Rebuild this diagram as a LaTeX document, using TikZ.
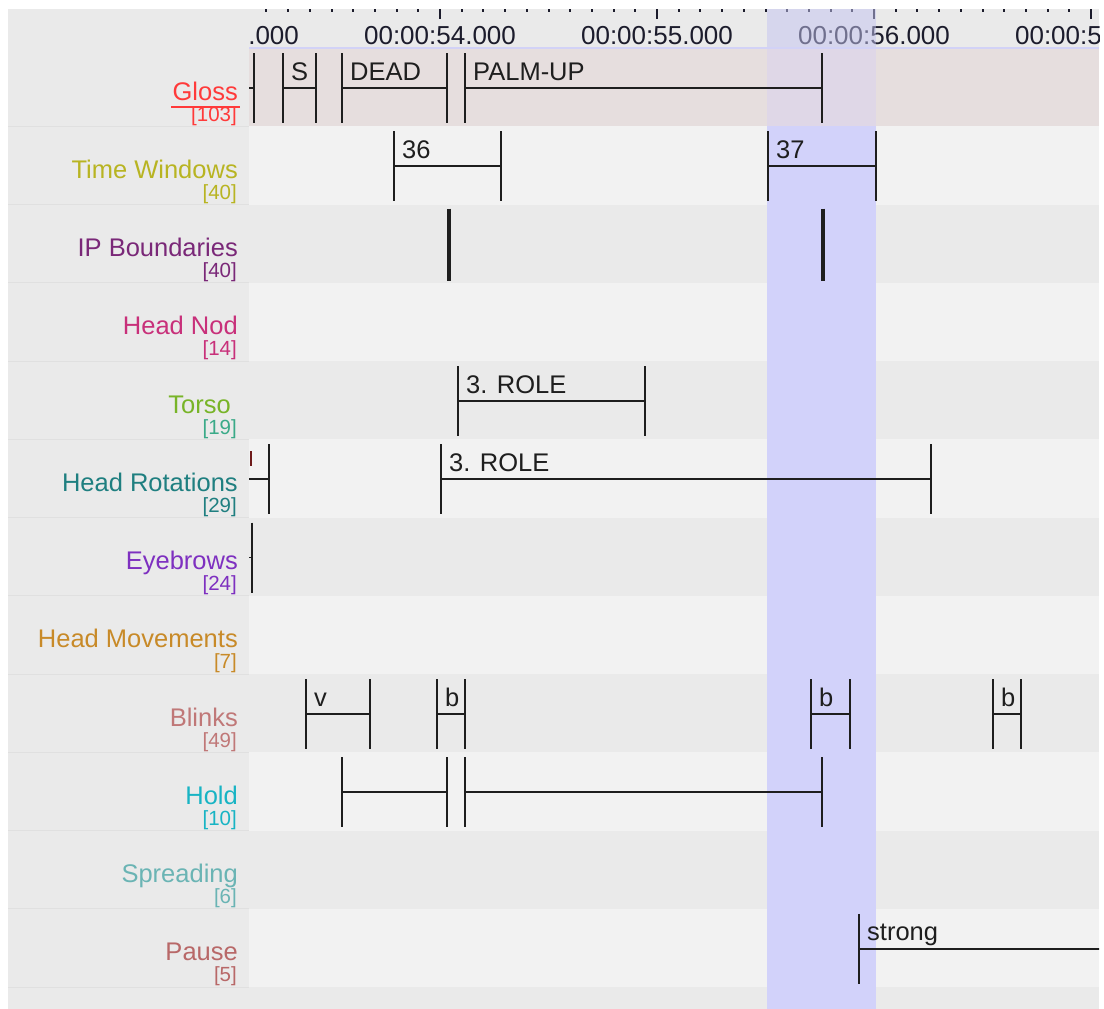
\documentclass[tikz,border=0pt]{standalone}
\usepackage{fontspec}
\setmainfont{Liberation Sans}
\definecolor{panelgray}{HTML}{EAEAEA}
\definecolor{rowlight}{HTML}{F2F2F2}
\definecolor{rowdark}{HTML}{EAEAEA}
\definecolor{glossrow}{HTML}{E6DEDE}
\definecolor{bandc}{HTML}{D2D2FA}
\definecolor{bandgloss}{HTML}{DFD7E7}
\definecolor{bandruler}{HTML}{C4C4F0}
\definecolor{rulerline}{HTML}{D2D2F6}
\definecolor{sepc}{HTML}{E0E0E0}
\definecolor{annc}{HTML}{1E1E1E}
\definecolor{rulc}{HTML}{1C1C2C}
\definecolor{cGloss}{HTML}{FF3A3A}
\definecolor{cTW}{HTML}{B8B422}
\definecolor{cIP}{HTML}{7A2878}
\definecolor{cNod}{HTML}{C8307A}
\definecolor{cTorso}{HTML}{78B428}
\definecolor{cTorsoN}{HTML}{3AAA88}
\definecolor{cRot}{HTML}{1F7F80}
\definecolor{cBrow}{HTML}{7E30C0}
\definecolor{cMov}{HTML}{C88A28}
\definecolor{cBlink}{HTML}{C07878}
\definecolor{cHold}{HTML}{18B4C4}
\definecolor{cSpread}{HTML}{6AB4B4}
\definecolor{cPause}{HTML}{B86868}
\definecolor{cFrag}{HTML}{6E1A1A}
\newcommand\tlann[5]{%
  \pgfmathsetmacro\tlrt{48+78.25*#1}
  \draw[annline] (#2,\tlrt+5) -- (#2,\tlrt+75);
  \draw[annline] (#3,\tlrt+5) -- (#3,\tlrt+75);
  \draw[annline] (#2,\tlrt+40) -- (#3,\tlrt+40);
  \node[anntext] (#5) at (#2+8,\tlrt+32) {#4};
}
\newcommand\tllabel[6]{%
  \pgfmathsetmacro\tlrt{48+78.25*#1}
  \node[lab, text=#4] (#6) at (238,\tlrt+52) {#2};
  \node[cnt, text=#5] (#6c) at (237,\tlrt+73) {[#3]};
}
\begin{document}
\begin{tikzpicture}[x=1pt,y=-1pt,
  annline/.style={line width=1.8pt, draw=annc},
  anntext/.style={anchor=base west, inner sep=0pt, font=\fontsize{25.5}{30}\selectfont, text=annc},
  lab/.style={anchor=base east, inner sep=0pt, font=\fontsize{25.5}{30}\selectfont},
  cnt/.style={anchor=base east, inner sep=0pt, font=\fontsize{20.5}{24}\selectfont},
  rul/.style={anchor=base, inner sep=0pt, font=\fontsize{26}{30}\selectfont, text=rulc}]
\useasboundingbox (0,0) rectangle (1104,1009);
\fill[white] (0,0) rectangle (1104,1009);
% panel
\fill[panelgray] (8,9) rectangle (1099,1009);
% data rows
\fill[glossrow] (249,48) rectangle (1099,126.25);
\foreach \r in {1,...,11}{
  \pgfmathsetmacro\tlrt{48+78.25*\r}
  \pgfmathtruncatemacro\odd{mod(\r,2)}
  \ifnum\odd=1
    \fill[rowlight] (249,\tlrt) rectangle (1099,\tlrt+78.25);
  \else
    \fill[rowdark] (249,\tlrt) rectangle (1099,\tlrt+78.25);
  \fi
}
% separators in label column
\foreach \r in {1,...,12}{
  \pgfmathsetmacro\tlrt{48+78.25*\r}
  \draw[sepc, line width=1pt] (8,\tlrt) -- (249,\tlrt);
}
% selection band
\fill[bandgloss] (767,48) rectangle (876,126.25);
\fill[bandc] (767,126.25) rectangle (876,1009);
% ruler
\begin{scope}
\clip (249,9) rectangle (1099,48);
\foreach \i in {-8,...,30}{
  \pgfmathsetmacro\xx{440+21.7*\i}
  \pgfmathtruncatemacro\m{mod(\i+100,10)}
  \ifnum\m=0
    \fill[rulc] (\xx-1,9) rectangle (\xx+1,19);
  \else
    \fill[rulc] (\xx-1,9) rectangle (\xx+1,12);
  \fi
}
\foreach \s/\xx in {53/223,54/440,55/657,56/874,57/1091}{
  \node[rul] (t\s) at (\xx,45) {00:00:\s.000};
}
\end{scope}
\fill[bandruler, opacity=0.5] (767,9) rectangle (876,48);
\draw[rulerline, line width=1.2pt] (249,48) -- (1099,48);
% labels
\tllabel{0}{Gloss}{103}{cGloss}{cGloss}{lGloss}
\draw[cGloss, line width=2pt] (171,106.5) -- (240,106.5);
\tllabel{1}{Time Windows}{40}{cTW}{cTW}{lTW}
\tllabel{2}{IP Boundaries}{40}{cIP}{cIP}{lIP}
\tllabel{3}{Head Nod}{14}{cNod}{cNod}{lNod}
\node[lab, text=cTorso] (lTorso) at (231,{48+78.25*4+52}) {Torso};
\node[cnt, text=cTorsoN] (lTorsoc) at (237,{48+78.25*4+73}) {[19]};
\tllabel{5}{Head Rotations}{29}{cRot}{cRot}{lRot}
\tllabel{6}{Eyebrows}{24}{cBrow}{cBrow}{lBrow}
\tllabel{7}{Head Movements}{7}{cMov}{cMov}{lMov}
\tllabel{8}{Blinks}{49}{cBlink}{cBlink}{lBlink}
\tllabel{9}{Hold}{10}{cHold}{cHold}{lHold}
\tllabel{10}{Spreading}{6}{cSpread}{cSpread}{lSpread}
\tllabel{11}{Pause}{5}{cPause}{cPause}{lPause}
% annotations
\begin{scope}
\clip (249,48) rectangle (1099,1009);
% Gloss
\tlann{0}{230}{254}{}{g0}
\tlann{0}{283}{316}{S}{g1}
\tlann{0}{342}{447}{DEAD}{g2}
\tlann{0}{465}{822}{PALM-UP}{g3}
% Time windows
\tlann{1}{394}{501}{36}{tw36}
\tlann{1}{768}{876}{37}{tw37}
% IP boundaries
\draw[annc, line width=3.6pt] (449,208.5) -- (449,280.5);
\draw[annc, line width=3.6pt] (823,208.5) -- (823,280.5);
% Torso
\tlann{4}{458}{645}{3. ROLE}{to1}
% Head rotations
\fill[cFrag] (249.5,451) rectangle (251.8,466);
\tlann{5}{230}{269}{}{hr0}
\tlann{5}{441}{931}{3. ROLE}{hr1}
% Eyebrows
\tlann{6}{230}{252}{}{eb0}
% Blinks
\tlann{8}{306}{370}{v}{bl1}
\tlann{8}{437}{465}{b}{bl2}
\tlann{8}{811}{850}{b}{bl3}
\tlann{8}{993}{1021}{b}{bl4}
% Hold
\tlann{9}{342}{447}{}{ho1}
\tlann{9}{465}{822}{}{ho2}
% Pause
\tlann{11}{859}{1130}{strong}{pa1}
\end{scope}
\end{tikzpicture}
\end{document}
